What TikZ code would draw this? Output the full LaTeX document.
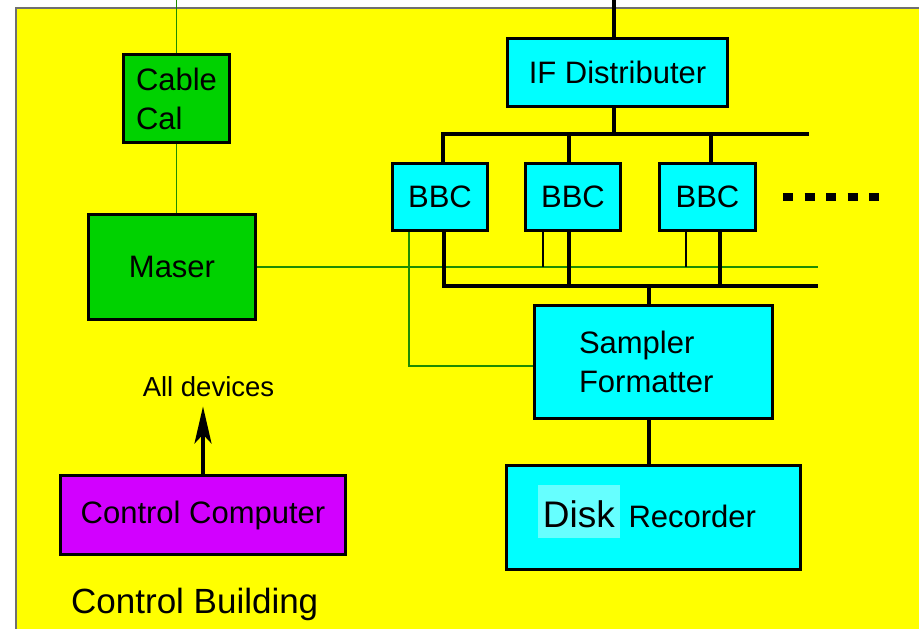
\documentclass[tikz,border=0pt]{standalone}
\usepackage{fontspec}
\setmainfont{Liberation Sans}
\usetikzlibrary{arrows.meta}
\definecolor{site}{HTML}{FFFF00}
\definecolor{framegray}{HTML}{707070}
\definecolor{clockgreen}{HTML}{00D200}
\definecolor{refgreen}{HTML}{1E8C00}
\definecolor{ifcyan}{HTML}{00FFFF}
\definecolor{diskhl}{HTML}{66FFFF}
\definecolor{ctrlpurple}{HTML}{D200FF}
\tikzset{
	unitbox/.style={draw, line width=3.5pt, inner sep=0pt, font=\fontsize{31}{39}\selectfont},
	clockbox/.style={unitbox, fill=clockgreen},
	ifbox/.style={unitbox, fill=ifcyan},
	ctrlbox/.style={unitbox, fill=ctrlpurple},
	bus/.style={line width=3.5pt},
	tap/.style={line width=1.8pt},
	refline/.style={draw=refgreen, line width=1.4pt}
}

\begin{document}
\begin{tikzpicture}[x=1pt,y=-1pt]
	\useasboundingbox (0,0) rectangle (919,629);
	\draw[line width=1.5pt, draw=framegray, fill=site] (16,8) rectangle (940,650);

	\node[clockbox, minimum width=106, minimum height=88, align=left] (cable) at (176.5,98.5) {Cable\\Cal};
	\node[clockbox, minimum width=167, minimum height=105] (maser) at (172,267) {Maser};
	\node[ifbox, minimum width=220, minimum height=68] (ifd) at (617.5,72.5) {IF Distributer};
	\node[ifbox, minimum width=95, minimum height=67] (bbc1) at (440,197) {BBC};
	\node[ifbox, minimum width=95, minimum height=67] (bbc2) at (573,197) {BBC};
	\node[ifbox, minimum width=96, minimum height=67] (bbc3) at (707.5,197) {BBC};
	\node[ifbox, minimum width=238, minimum height=113, text width=149pt, align=left] (sf) at (653.5,362) {Sampler\\Formatter};
	\node[ifbox, minimum width=294, minimum height=104, text depth=23pt] (disk) at (653.5,517.5)
		{\setlength{\fboxsep}{0pt}\colorbox{diskhl}{\rule[-11pt]{0pt}{53pt}\hspace{5pt}\fontsize{37}{40}\selectfont Disk\hspace{5pt}} Recorder\kern13pt};
	\node[ctrlbox, minimum width=285, minimum height=79] (ctrl) at (203,515) {Control Computer};
	\node[inner sep=0pt, anchor=base, font=\fontsize{27.5}{30}\selectfont] (alldev) at (208.5,396) {All devices};
	\node[inner sep=0pt, anchor=base west, font=\fontsize{35}{40}\selectfont] (bldg) at (71,613) {Control Building};

	\coordinate (calin) at (176.5,0);
	\coordinate (ifin) at (614,0);
	\coordinate (topR) at (809,134);
	\coordinate (botR) at (818,286);
	\coordinate (refR) at (818,267);
	\coordinate (more) at (783,197);

	% reference signal
	\draw[refline] (calin) -- (cable.north);
	\draw[refline] (cable.south) -- (cable.south |- maser.north);
	\draw[refline] (maser.east) -- (refR);
	\draw[refline] ([xshift=-31pt]bbc1.south) |- ([yshift=-4pt]sf.west);
	\draw[tap] ([xshift=-30pt]bbc2.south) -- ([xshift=-30pt]bbc2.south |- refR);
	\draw[tap] ([xshift=-21.5pt]bbc3.south) -- ([xshift=-21.5pt]bbc3.south |- refR);

	% IF into the converters
	\draw[bus] (ifin) -- (ifin |- ifd.north);
	\draw[bus] (ifin |- ifd.south) -- (ifin |- topR);
	\draw[bus] ([xshift=3pt]bbc1.north) |- (topR);
	\draw[bus] ([xshift=-4pt]bbc2.north) -- ([xshift=-4pt]bbc2.north |- topR);
	\draw[bus] ([xshift=3.5pt]bbc3.north) -- ([xshift=3.5pt]bbc3.north |- topR);
	\draw[bus, line width=8pt, dash pattern=on 10pt off 11.5pt] (more) -- ++(96,0);

	% baseband out to the sampler
	\draw[bus] ([xshift=4pt]bbc1.south) |- (botR);
	\draw[bus] ([xshift=-4pt]bbc2.south) -- ([xshift=-4pt]bbc2.south |- botR);
	\draw[bus] ([xshift=12.5pt]bbc3.south) -- ([xshift=12.5pt]bbc3.south |- botR);
	\draw[bus] ([xshift=-4.5pt]sf.north) -- ([xshift=-4.5pt]sf.north |- botR);
	\draw[bus] ([xshift=-4.5pt]sf.south) -- ([xshift=-4.5pt]sf.south |- disk.north);

	\draw[bus, -{Stealth[length=37pt, width=17pt, inset=9pt]}, shorten >=10pt] (ctrl.north) -- (ctrl.north |- alldev.south);
\end{tikzpicture}
\end{document}
